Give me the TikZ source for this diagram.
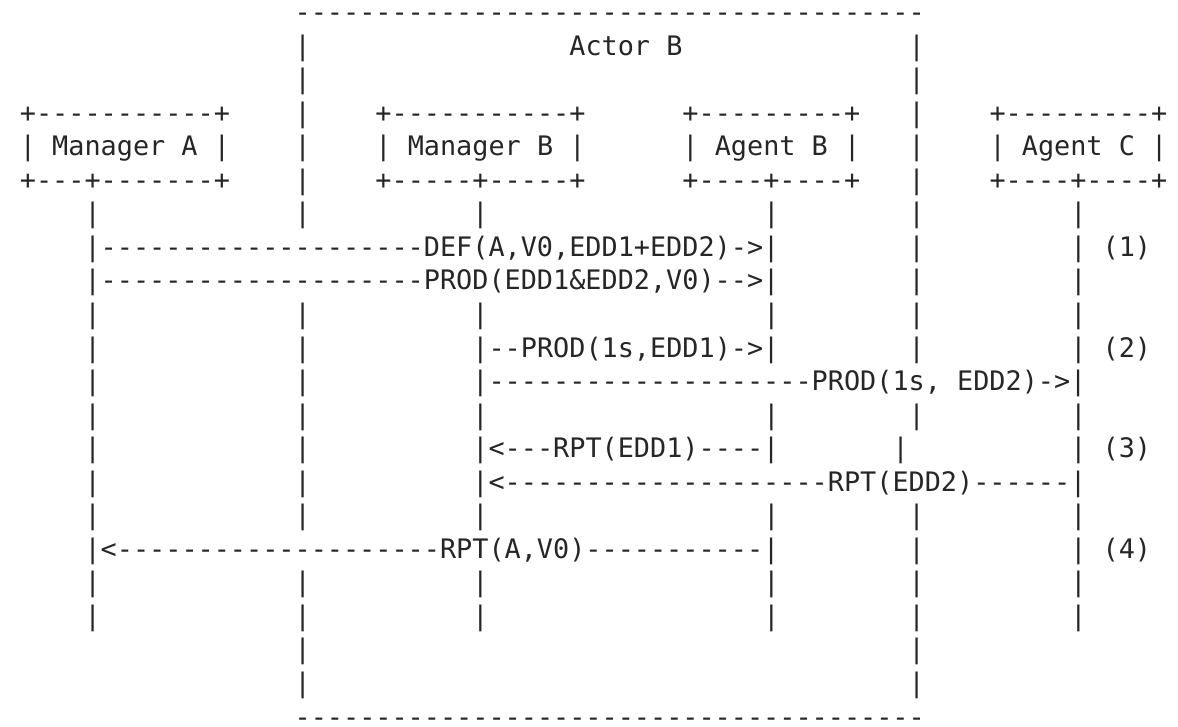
\documentclass[tikz,border=0pt]{standalone}
\usepackage{fontspec}
\setmonofont{DejaVu Sans Mono}
\definecolor{ink}{RGB}{38,38,38}
\tikzset{txt/.style={anchor=base west, inner sep=0pt, outer sep=0pt, text=ink,
  font=\ttfamily\fontsize{26.84pt}{30pt}\selectfont}}
% column c, row r -> position of a character cell (left edge, baseline)
\newcommand\seg[4]{\node[txt] (#1) at ({19.92+16.16*#2},{21.5+33.55*#3}) {#4};}
\begin{document}
\begin{tikzpicture}[x=1pt,y=-1pt]
\useasboundingbox[fill=white] (0,0) rectangle (1178,727);
% Actor B frame
\seg{topline}{17}{0}{---------------------------------------}
\seg{actorlabel}{34}{1}{Actor B}
\foreach \r in {1,2,3,4,5,19,20}{\seg{al-\r}{17}{\r}{|}\seg{ar-\r}{55}{\r}{|}}
\seg{bottomline}{17}{21}{---------------------------------------}
% boxes
\seg{ma-top}{0}{3}{+-----------+}
\seg{ma}{0}{4}{| Manager A |}
\seg{ma-bot}{0}{5}{+---+-------+}
\seg{mb-top}{22}{3}{+-----------+}
\seg{mb}{22}{4}{| Manager B |}
\seg{mb-bot}{22}{5}{+-----+-----+}
\seg{ab-top}{41}{3}{+---------+}
\seg{ab}{41}{4}{| Agent B |}
\seg{ab-bot}{41}{5}{+----+----+}
\seg{ac-top}{60}{3}{+---------+}
\seg{ac}{60}{4}{| Agent C |}
\seg{ac-bot}{60}{5}{+----+----+}
% full rows of lifelines
\foreach \r in {6,9,12,15,17,18}{
  \foreach \c in {4,17,28,46,55,65}{\seg{bar-\r-\c}{\c}{\r}{|}}}
% row 7: DEF
\seg{def}{4}{7}{|--------------------DEF(A,V0,EDD1+EDD2)->|}
\seg{b7a}{55}{7}{|}\seg{b7b}{65}{7}{|}
\seg{step1}{67}{7}{(1)}
% row 8: PROD
\seg{prod}{4}{8}{|--------------------PROD(EDD1\&EDD2,V0)-->|}
\seg{b8a}{55}{8}{|}\seg{b8b}{65}{8}{|}
% row 10
\seg{b10a}{4}{10}{|}\seg{b10b}{17}{10}{|}
\seg{prod1}{28}{10}{|--PROD(1s,EDD1)->|}
\seg{b10c}{55}{10}{|}\seg{b10d}{65}{10}{|}
\seg{step2}{67}{10}{(2)}
% row 11
\seg{b11a}{4}{11}{|}\seg{b11b}{17}{11}{|}
\seg{prod2}{28}{11}{|--------------------PROD(1s, EDD2)->|}
% row 13
\seg{b13a}{4}{13}{|}\seg{b13b}{17}{13}{|}
\seg{rpt1}{28}{13}{|<---RPT(EDD1)----|}
\seg{b13c}{54}{13}{|}\seg{b13d}{65}{13}{|}
\seg{step3}{67}{13}{(3)}
% row 14
\seg{b14a}{4}{14}{|}\seg{b14b}{17}{14}{|}
\seg{rpt2}{28}{14}{|<--------------------RPT(EDD2)------|}
% row 16
\seg{rpta}{4}{16}{|<--------------------RPT(A,V0)-----------|}
\seg{b16a}{55}{16}{|}\seg{b16b}{65}{16}{|}
\seg{step4}{67}{16}{(4)}
\end{tikzpicture}
\end{document}
